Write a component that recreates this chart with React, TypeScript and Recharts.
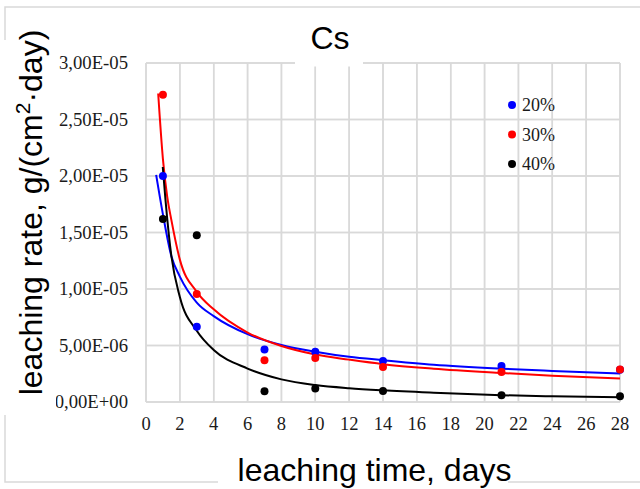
import { ComposedChart, Line, Scatter, XAxis, YAxis, ZAxis, Legend, CartesianGrid } from "recharts";

// measured points
const days = [1, 3, 7, 10, 14, 21, 28];
const rate20 = [2.0e-5, 6.65e-6, 4.64e-6, 4.45e-6, 3.64e-6, 3.19e-6, 2.85e-6];
const rate30 = [2.72e-5, 9.55e-6, 3.7e-6, 3.9e-6, 3.1e-6, 2.66e-6, 2.87e-6];
const rate40 = [1.62e-5, 1.475e-5, 9.5e-7, 1.19e-6, 9.8e-7, 5.9e-7, 5.0e-7];

// trend curves
const trend20Days = [0.6, 1, 1.5, 2, 3, 4, 6, 8, 10, 12, 14, 17, 21, 24, 28];
const trend20 = [20.1e-6, 16.6e-6, 12.9e-6, 11.1e-6, 8.8e-6, 7.6e-6, 6.0e-6, 5.05e-6, 4.45e-6, 4.0e-6, 3.7e-6, 3.3e-6, 2.95e-6, 2.75e-6, 2.52e-6];
const trend30Days = [0.72, 1, 1.25, 1.5, 2, 3, 4, 6, 8, 10, 12, 14, 17, 21, 24, 28];
const trend30 = [27.3e-6, 21.5e-6, 18.2e-6, 16.1e-6, 12.6e-6, 9.75e-6, 8.2e-6, 6.15e-6, 4.95e-6, 4.2e-6, 3.75e-6, 3.35e-6, 2.95e-6, 2.57e-6, 2.32e-6, 2.07e-6];
const trend40Days = [0.99, 1.15, 1.5, 2, 3, 4, 6, 8, 10, 12, 14, 17, 21, 24, 28];
const trend40 = [20.8e-6, 17.9e-6, 12.9e-6, 9.3e-6, 6.3e-6, 4.6e-6, 2.96e-6, 2.0e-6, 1.5e-6, 1.22e-6, 1.03e-6, 0.82e-6, 0.6e-6, 0.5e-6, 0.42e-6];

const xTicks = [0, 2, 4, 6, 8, 10, 12, 14, 16, 18, 20, 22, 24, 26, 28];
const yTicks = [0, 5e-6, 1e-5, 1.5e-5, 2e-5, 2.5e-5, 3e-5];

const series = [
  { name: "20%", color: "#0000ff", points: rate20, trendX: trend20Days, trendY: trend20 },
  { name: "30%", color: "#ff0000", points: rate30, trendX: trend30Days, trendY: trend30 },
  { name: "40%", color: "#000000", points: rate40, trendX: trend40Days, trendY: trend40 },
];

const serif = "Liberation Serif";
const sans = "Liberation Sans";
const gridColor = "#d9d9d9";
const W = 640;
const H = 489;
const margin = { top: 63, right: 20, bottom: 0, left: 0 };
const yAxisWidth = 146;
const xAxisHeight = 87;

// plot box, used only for the background grid
const plotLeft = margin.left + yAxisWidth;
const plotWidth = W - plotLeft - margin.right;
const plotTop = margin.top;
const plotHeight = H - plotTop - xAxisHeight;
const xMax = xTicks[xTicks.length - 1];
const yMax = yTicks[yTicks.length - 1];
const gx = (t: number) => plotLeft + (t / xMax) * plotWidth;
const gy = (t: number) => plotTop + (1 - t / yMax) * plotHeight;

const pairs = (xs: number[], ys: number[]) => xs.map((x, i) => ({ x, y: ys[i] }));

function sci(v: number) {
  const [m, e] = v.toExponential(2).split("e");
  const n = Number(e);
  return m.replace(".", ",") + "E" + (n < 0 ? "-" : "+") + String(Math.abs(n)).padStart(2, "0");
}

function LegendBox() {
  return (
    <svg width={70} height={90}>
      {series.map((s, i) => (
        <g key={s.name}>
          <circle cx={7} cy={13 + i * 29.5} r={4} fill={s.color} />
          <text x={17} y={13 + i * 29.5 + 6} fontFamily={serif} fontSize={18} fill="#1a1a1a">
            {s.name}
          </text>
        </g>
      ))}
    </svg>
  );
}

export default function App() {
  return (
    <div style={{ position: "absolute", left: 0, top: 0, width: W, height: H, background: "#fff" }}>
      <svg width={W} height={H} style={{ position: "absolute", left: 0, top: 0 }}>
        {xTicks.map((t) => (
          <line key={"gx" + t} x1={gx(t)} x2={gx(t)} y1={plotTop} y2={plotTop + plotHeight} stroke={gridColor} strokeWidth={1.5} />
        ))}
        {yTicks.map((t) => (
          <line key={"gy" + t} x1={plotLeft} x2={plotLeft + plotWidth} y1={gy(t)} y2={gy(t)} stroke={gridColor} strokeWidth={1.5} />
        ))}
      </svg>
      <div style={{ position: "absolute", left: 0, top: 0 }}>
        <ComposedChart width={W} height={H} margin={margin}>
          <CartesianGrid stroke={gridColor} strokeWidth={1.5} />
          <XAxis
            dataKey="x"
            type="number"
            domain={[0, xMax]}
            ticks={xTicks}
            height={xAxisHeight}
            axisLine={false}
            tickLine={false}
            tickSize={0}
            tickMargin={28}
            tick={(p: any) => (
              <text x={p.x} y={p.y} textAnchor="middle" fontFamily={serif} fontSize={18.5} fill="#1a1a1a">
                {p.payload.value}
              </text>
            )}
          />
          <YAxis
            type="number"
            domain={[0, yMax]}
            ticks={yTicks}
            width={yAxisWidth}
            axisLine={false}
            tickLine={false}
            tickSize={0}
            tickMargin={18}
            tick={(p: any) => (
              <text x={p.x} y={p.y + 6} textAnchor="end" fontFamily={serif} fontSize={18.7} fill="#1a1a1a">
                {sci(p.payload.value)}
              </text>
            )}
          />
          <ZAxis range={[50, 50]} />
          {series.map((s) => (
            <Line
              key={"t" + s.name}
              data={pairs(s.trendX, s.trendY)}
              dataKey="y"
              type="monotone"
              stroke={s.color}
              strokeWidth={2}
              dot={false}
              legendType="none"
              isAnimationActive={false}
            />
          ))}
          {series.map((s) => (
            <Scatter
              key={"p" + s.name}
              name={s.name}
              data={pairs(days, s.points)}
              dataKey="y"
              fill={s.color}
              isAnimationActive={false}
            />
          ))}
          <Legend
            layout="vertical"
            align="center"
            verticalAlign="middle"
            content={() => <LegendBox />}
            wrapperStyle={{ position: "absolute", left: 505, top: 92, width: 70 }}
          />
        </ComposedChart>
      </div>
      <svg width={W} height={H} style={{ position: "absolute", left: 0, top: 0, pointerEvents: "none" }}>
        <rect x={5} y={7} width={660} height={475} fill="none" stroke={gridColor} strokeWidth={1.5} />
        <rect x={0} y={40} width={56} height={375} fill="#fff" />
        <rect x={295} y={10} width={68} height={56.5} fill="#fff" />
        <rect x={218} y={440} width={290} height={46} fill="#fff" />
        <text x={330} y={49} textAnchor="middle" fontFamily={sans} fontSize={32} fill="#000">
          Cs
        </text>
        <text
          x={41.5}
          y={212.5}
          transform="rotate(-90, 41.5, 212.5)"
          textAnchor="middle"
          fontFamily={sans}
          fontSize={32}
          fill="#000"
        >
          leaching rate, g/(cm
          <tspan fontSize={21} dy={-12}>2</tspan>
          <tspan dy={12}>·day)</tspan>
        </text>
        <text x={374.5} y={481} textAnchor="middle" fontFamily={sans} fontSize={32} fill="#000">
          leaching time, days
        </text>
      </svg>
    </div>
  );
}
